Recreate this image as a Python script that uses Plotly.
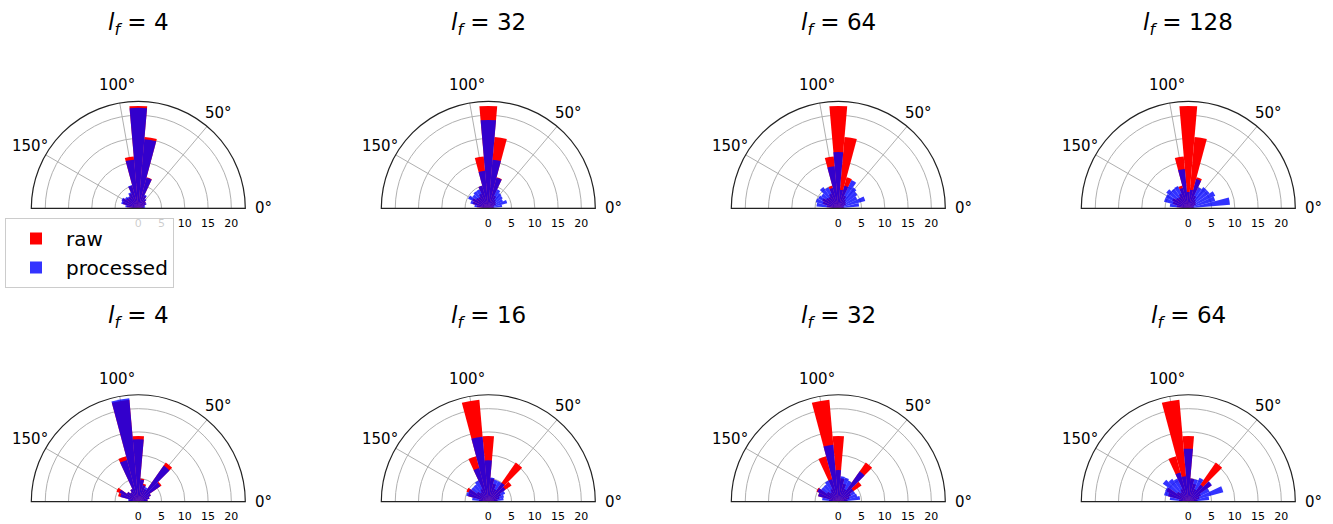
import math
import plotly.graph_objects as go

# angular bin centres (degrees)
theta_bins = [10, 20, 30, 40, 50, 60, 70, 80, 90, 100, 110, 120, 130, 140, 150, 160, 170]

# raw distributions (same for every panel of a row)
raw_top = [1.2, 1.2, 1.8, 2.0, 2.3, 3.0, 6.9, 15.4, 22.0, 11.2, 5.0, 3.5, 3.0, 3.2, 3.8, 3.5, 2.5]
raw_bottom = [2.0, 2.5, 3.0, 6.1, 10.3, 3.0, 4.0, 5.0, 14.1, 22.0, 10.1, 3.0, 2.5, 3.0, 5.2, 4.5, 2.0]

# processed distributions
proc_top_4 = [1.5, 1.5, 2.0, 2.0, 2.5, 3.2, 6.8, 14.9, 21.6, 10.5, 5.2, 3.8, 3.2, 3.5, 4.0, 3.8, 2.8]
proc_top_32 = [3.0, 4.2, 3.5, 3.8, 4.0, 4.5, 6.8, 10.5, 19.0, 8.1, 5.0, 4.5, 4.5, 4.2, 4.8, 4.0, 3.0]
proc_top_64 = [4.5, 6.0, 4.5, 5.0, 5.5, 6.7, 5.0, 4.0, 12.1, 9.1, 4.5, 5.0, 5.6, 4.5, 4.8, 5.0, 4.7]
proc_top_128 = [9.0, 6.0, 6.4, 5.6, 5.6, 5.0, 6.5, 4.0, 3.5, 8.5, 4.5, 5.3, 5.2, 5.8, 5.4, 5.4, 4.0]
proc_bot_4 = [2.0, 2.5, 3.0, 5.8, 9.5, 3.5, 3.7, 4.8, 13.4, 22.3, 9.3, 3.0, 2.5, 3.0, 4.5, 4.0, 2.2]
proc_bot_16 = [3.3, 3.5, 4.0, 4.5, 5.0, 4.9, 4.9, 5.2, 8.9, 14.0, 7.5, 5.0, 4.5, 4.5, 4.7, 4.9, 3.5]
proc_bot_32 = [4.7, 4.2, 4.0, 4.0, 8.0, 5.0, 5.4, 5.5, 6.8, 12.3, 5.0, 5.0, 4.5, 4.5, 5.0, 4.5, 3.5]
proc_bot_64 = [4.5, 7.8, 5.0, 6.2, 4.5, 5.7, 5.0, 5.0, 11.4, 5.5, 6.5, 5.5, 6.0, 6.7, 5.5, 5.4, 4.0]

titles = ["4", "32", "64", "128", "4", "16", "32", "64"]
raw_sets = [raw_top] * 4 + [raw_bottom] * 4
proc_sets = [proc_top_4, proc_top_32, proc_top_64, proc_top_128,
             proc_bot_4, proc_bot_16, proc_bot_32, proc_bot_64]

radial_ticks = [0, 5, 10, 15, 20]
angle_ticks = [0, 50, 100, 150]
angle_labels = ["0°", "50°", "100°", "150°"]

W, H = 1333, 524
R = 107.0
LABEL_R = R + 18.0
col_cx = [138.3 + 350 * c for c in range(4)]
row_cy = [208.3, 501.7]
title_y = [24.0, 317.4]

FONT = "DejaVu Sans, Verdana, sans-serif"

fig = go.Figure()
annotations = []
layout = dict(
    width=W, height=H,
    margin=dict(l=0, r=0, t=0, b=0),
    paper_bgcolor="white",
    plot_bgcolor="white",
    font=dict(family=FONT, color="black"),
    showlegend=True,
    legend=dict(
        x=5 / W, y=1 - 218 / H, xanchor="left", yanchor="top",
        bordercolor="#cccccc", borderwidth=1, bgcolor="rgba(255,255,255,0.8)",
        font=dict(size=20, family=FONT), itemwidth=50,
        tracegroupgap=0,
    ),
)

for i in range(8):
    r_idx, c_idx = divmod(i, 4)
    cx, cy = col_cx[c_idx], row_cy[r_idx]
    key = "polar" if i == 0 else f"polar{i+1}"
    layout[key] = dict(
        domain=dict(x=[(cx - R) / W, (cx + R) / W],
                    y=[(H - cy) / H, (H - cy + R) / H]),
        sector=[0, 180],
        bgcolor="white",
        barmode="overlay",
        radialaxis=dict(
            range=[0, 23], tickvals=radial_ticks, ticktext=[str(v) for v in radial_ticks],
            angle=0, side="clockwise", tickangle=0,
            showline=False, ticks="outside", ticklen=5, tickcolor="rgba(0,0,0,0)",
            gridcolor="#b0b0b0", gridwidth=0.8,
            tickfont=dict(size=11, family=FONT, color="black"),
            layer="above traces",
        ),
        angularaxis=dict(
            tickvals=angle_ticks, ticktext=angle_labels,
            direction="counterclockwise", rotation=0,
            showline=True, linecolor="#222222", linewidth=1.2,
            gridcolor="#b0b0b0", gridwidth=0.8,
            ticks="", showticklabels=False,
            layer="above traces",
        ),
    )
    fig.add_trace(go.Barpolar(
        r=raw_sets[i], theta=theta_bins, width=10, name="raw",
        marker=dict(color="rgb(255,0,0)", line=dict(width=0)),
        subplot=key, showlegend=(i == 0), legendgroup="raw",
    ))
    fig.add_trace(go.Barpolar(
        r=proc_sets[i], theta=theta_bins, width=10, name="processed",
        marker=dict(color="rgba(0,0,255,0.8)", line=dict(width=0)),
        subplot=key, showlegend=(i == 0), legendgroup="processed",
    ))
    annotations.append(dict(
        text=f"<i>l</i><sub><i>f</i></sub> = {titles[i]}",
        x=cx / W, y=1 - title_y[r_idx] / H, xref="paper", yref="paper",
        xanchor="center", yanchor="middle", showarrow=False,
        font=dict(size=23, family=FONT, color="black"),
    ))
    # angular tick labels, centred just outside the arc at each tick angle
    for ang, lab in zip(angle_ticks, angle_labels):
        px = cx + LABEL_R * math.cos(math.radians(ang))
        py = cy - LABEL_R * math.sin(math.radians(ang))
        annotations.append(dict(
            text=lab, x=px / W, y=1 - py / H, xref="paper", yref="paper",
            xanchor="center", yanchor="middle", showarrow=False,
            font=dict(size=15, family=FONT, color="black"),
        ))

layout["annotations"] = annotations
fig.update_layout(**layout)
fig.write_html("out.html")
